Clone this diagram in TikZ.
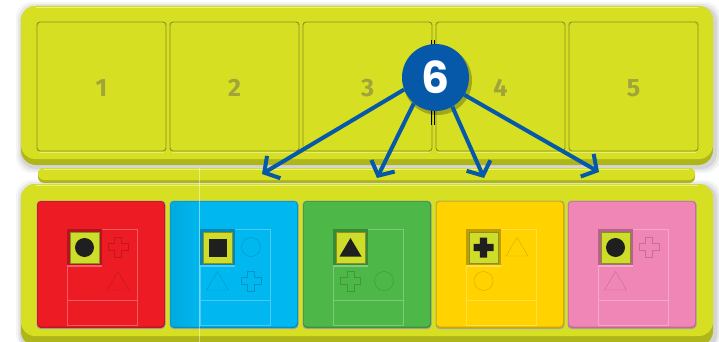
\documentclass[tikz,border=0pt]{standalone}
\usepackage{fontspec}
\newfontfamily\numfont{Fira Sans}
\newfontfamily\sixfont{Poppins}
\usetikzlibrary{arrows.meta}
\definecolor{tray}{HTML}{D6DF22}
\definecolor{traydark}{HTML}{AEB61A}
\definecolor{traylight}{HTML}{E9EF8C}
\definecolor{sqdark}{HTML}{8A9022}
\definecolor{sqlight}{HTML}{E6EC78}
\definecolor{numcol}{HTML}{A0A43A}
\definecolor{blue6}{HTML}{0659A8}
\definecolor{tred}{HTML}{ED1C24}
\definecolor{tblue}{HTML}{00B7EF}
\definecolor{tgreen}{HTML}{4DB748}
\definecolor{tyellow}{HTML}{FFD200}
\definecolor{tpink}{HTML}{F086B5}
\definecolor{win}{HTML}{CEDD2A}
\tikzset{
  numstyle/.style={font=\numfont\bfseries\fontsize{25}{25}\selectfont, text=numcol, inner sep=0},
  arr/.style={draw=blue6, line width=4pt, -{Straight Barb[length=11pt,width=26pt]}},
  pics/none/.style={code={}},
  pics/shcirc/.style={code={\path[pic actions] (0,0) circle[radius=9.5];}},
  pics/shsq/.style={code={\path[pic actions] (-9,-9) rectangle (9,9);}},
  pics/shtri/.style={code={\path[pic actions] (0,-9.5) -- (11,9) -- (-11,9) -- cycle;}},
  pics/shcross/.style={code={\path[pic actions] (-3.6,-10) -- (3.6,-10) -- (3.6,-3.6) -- (10,-3.6) -- (10,3.6) -- (3.6,3.6) -- (3.6,10) -- (-3.6,10) -- (-3.6,3.6) -- (-10,3.6) -- (-10,-3.6) -- (-3.6,-3.6) -- cycle;}},
}
\begin{document}
\begin{tikzpicture}[x=1pt,y=-1pt]
\useasboundingbox (0,0) rectangle (719,342);
% soft shadows
\foreach \d/\o in {6/0.04,4/0.06,2/0.08} {
  \fill[black,opacity=\o,rounded corners=16] (21-\d+1,6-\d+2) rectangle (713+\d+2,165+\d+2);
  \fill[black,opacity=\o,rounded corners=16] (21-\d+1,184-\d+2) rectangle (713+\d+2,350);
}
% top tray
\fill[traydark, rounded corners=15] (21,6) rectangle (713,165);
\fill[tray, rounded corners=14] (21,6) rectangle (713,159);
\draw[traylight, line width=1.2pt] (36,7.2) -- (698,7.2);
% five squares
\foreach \x [count=\i] in {37,170,303,436,569} {
  \draw[sqdark, line width=0.9pt, rounded corners=3] (\x,22) rectangle (\x+129,151);
  \draw[sqlight, line width=0.8pt] (\x+2,152.3) -- (\x+127,152.3);
  \node[numstyle] (n\i) at (\x+64.5,88) {\i};
}
% dark marks between squares 3 and 4
\draw[black, line width=0.6pt] (431.5,40) -- (431.5,125) (434,40) -- (434,125);
% separator bar
\fill[traydark, rounded corners=6] (38,168) rectangle (695,183);
\fill[tray, rounded corners=6] (38,168) rectangle (695,180);
\draw[traylight, line width=1pt] (44,169) -- (689,169);
% bottom tray
\fill[traydark, rounded corners=15] (21,184) rectangle (713,346);
\fill[tray, rounded corners=14] (21,184) rectangle (713,336);
\draw[traylight, line width=1.2pt] (36,185.2) -- (698,185.2);
% tiles
\foreach \x/\c/\main/\ur/\ll/\lr in {
  37/tred/shcirc/shcross/none/shtri,
  170/tblue/shsq/shcirc/shtri/shcross,
  303/tgreen/shtri/none/shcross/shcirc,
  436/tyellow/shcross/shtri/shcirc/none,
  568/tpink/shcirc/shcross/shtri/none} {
  \fill[black!35, rounded corners=4] (\x-0.5,200.5) rectangle (\x+128.5,329);
  \fill[\c!80!black, rounded corners=4] (\x,201) rectangle (\x+128,328);
  \fill[\c, rounded corners=3.5] (\x+0.6,201.6) rectangle (\x+127,326.5);
  % panel
  \draw[\c!72!white, line width=0.4pt] (\x+30,229) rectangle (\x+100,325) (\x+30,300) -- (\x+100,300);
  % window
  \fill[\c!75!black] (\x+30,229) rectangle (\x+65,267);
  \fill[\c!70!white] (\x+30,265) rectangle (\x+65,267);
  \fill[win, draw=sqdark, line width=0.4pt] (\x+33,232.5) rectangle (\x+62,263);
  \pic[fill=black!88] at (\x+47.5,247.5) {\main};
  % outline slots
  \pic[draw=\c!82!black, line width=0.4pt] at (\x+81,247) {\ur};
  \pic[draw=\c!82!black, line width=0.4pt] at (\x+47.5,281) {\ll};
  \pic[draw=\c!82!black, line width=0.4pt] at (\x+81,281) {\lr};
}
% blue tile left darkening and faint line
\shade[left color=tblue!88!black, right color=tblue, opacity=0.6] (171,202) rectangle (199,326);
\draw[white, opacity=0.45, line width=0.6pt] (199,168) -- (199,342);
% arrow targets
\coordinate (t1) at (262,174);
\coordinate (t2) at (377,178);
\coordinate (t3) at (484,178);
\coordinate (t4) at (599,172);
% circle 6
\fill[black, opacity=0.25] (437.5,80.5) circle[radius=34.5];
\node[circle, fill=blue6, minimum size=67pt, inner sep=0] (six) at (435.5,77.5)
  {\sixfont\bfseries\fontsize{44}{44}\selectfont\color{white}6};
\draw[arr] (six.201) -- (t1);
\draw[arr] (six.230) -- (t2);
\draw[arr] (six.300) -- (t3);
\draw[arr] (six.329) -- (t4);
\end{tikzpicture}
\end{document}
